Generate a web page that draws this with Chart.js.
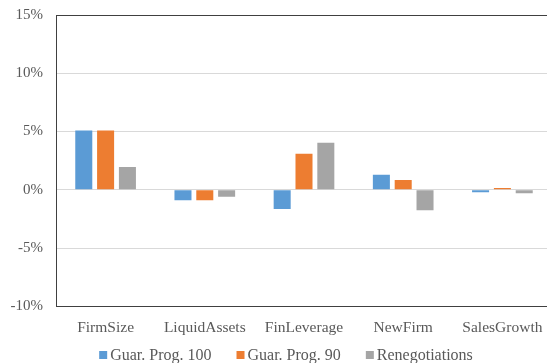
<!DOCTYPE html>
<html>
<head>
<meta charset="utf-8">
<script src="https://cdn.jsdelivr.net/npm/chart.js@4"></script>
<style>
  html, body { margin: 0; padding: 0; background: #fff; overflow: hidden; }
  #wrap { width: 552px; height: 363px; }
</style>
</head>
<body>
<div id="wrap"><canvas id="chart" width="552" height="363"></canvas></div>
<script>
// Regression coefficients by firm characteristic (percent)
const categories = ['FirmSize', 'LiquidAssets', 'FinLeverage', 'NewFirm', 'SalesGrowth'];
const guarProg100 = [5.1, -0.9, -1.65, 1.3, -0.2];
const guarProg90 = [5.1, -0.9, 3.1, 0.85, 0.15];
const renegotiations = [1.95, -0.6, 4.05, -1.75, -0.3];
const yTicks = [-10, -5, 0, 5, 10, 15];

const FONT = "'Liberation Serif', 'Times New Roman', serif";
const TEXT = '#595959';
const FRAME = '#404040';

// Legend row under the category labels: small square swatch followed by the series name
const bottomLegend = {
  id: 'bottomLegend',
  afterDraw(chart) {
    const ctx = chart.ctx;
    const box = 8, boxGap = 3, itemGap = 25, centerX = 286, y = 355;
    ctx.save();
    ctx.font = `16px ${FONT}`;
    ctx.textBaseline = 'middle';
    const items = chart.data.datasets.map(ds => ({
      text: ds.label, color: ds.backgroundColor, w: ctx.measureText(ds.label).width
    }));
    const total = items.reduce((s, it) => s + box + boxGap + it.w, 0) + itemGap * (items.length - 1);
    let x = centerX - total / 2;
    items.forEach(it => {
      ctx.fillStyle = it.color;
      ctx.fillRect(x, y - box / 2, box, box);
      ctx.fillStyle = TEXT;
      ctx.fillText(it.text, x + box + boxGap, y + 1);
      x += box + boxGap + it.w + itemGap;
    });
    ctx.restore();
  }
};

new Chart(document.getElementById('chart'), {
  type: 'bar',
  data: {
    labels: categories,
    datasets: [
      { label: 'Guar. Prog. 100', data: guarProg100, backgroundColor: '#5b9bd5' },
      { label: 'Guar. Prog. 90', data: guarProg90, backgroundColor: '#ed7d31' },
      { label: 'Renegotiations', data: renegotiations, backgroundColor: '#a5a5a5' }
    ]
  },
  plugins: [bottomLegend],
  options: {
    responsive: false,
    animation: false,
    layout: { padding: { top: 15, left: 0, right: 0, bottom: 14 } },
    datasets: { bar: { categoryPercentage: 0.66, barPercentage: 0.78 } },
    plugins: {
      tooltip: { enabled: false },
      legend: { display: false }
    },
    scales: {
      x: {
        grid: { display: false, drawTicks: false },
        border: { display: true, color: FRAME, width: 1 },
        ticks: { font: { family: FONT, size: 15.5 }, color: TEXT, padding: 12 },
        afterFit: (scale) => { scale.paddingLeft = 0; scale.paddingRight = 0; }
      },
      y: {
        min: -10,
        max: 15,
        afterBuildTicks: (scale) => { scale.ticks = yTicks.map(v => ({ value: v })); },
        afterFit: (scale) => { scale.width = 56; scale.paddingTop = 0; scale.paddingBottom = 0; },
        grid: {
          drawTicks: false,
          color: (ctx) => (ctx.tick && (ctx.tick.value === 15 || ctx.tick.value === -10)) ? FRAME : '#d9d9d9',
          lineWidth: 1
        },
        border: { display: true, color: FRAME, width: 1 },
        ticks: {
          font: { family: FONT, size: 15 },
          color: TEXT,
          padding: 13,
          callback: (v) => v + '%'
        }
      }
    }
  }
});
</script>
</body>
</html>
